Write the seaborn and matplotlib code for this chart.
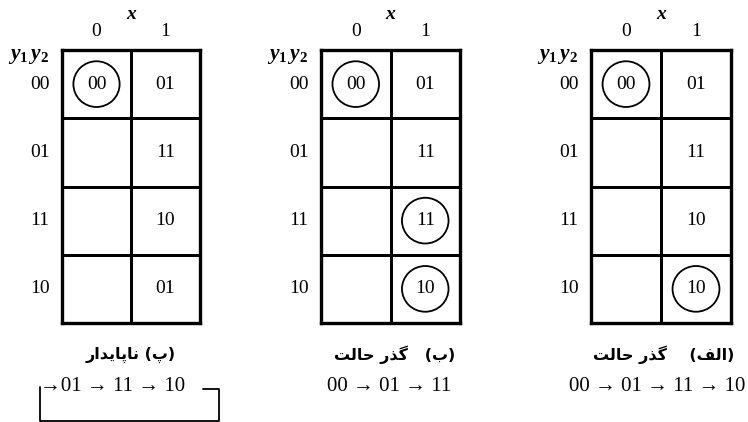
import numpy as np
import pandas as pd
import matplotlib
matplotlib.use("Agg")
import matplotlib.pyplot as plt
from matplotlib.colors import ListedColormap
from matplotlib.patches import Circle
import seaborn as sns

# ---------------- data ----------------
col_labels = ["0", "1"]
row_labels = ["00", "01", "11", "10"]

# panels in left-to-right order: (پ), (ب), (الف)
next_x0_p = ["00", "", "", ""]
next_x1_p = ["01", "11", "10", "01"]
next_x0_b = ["00", "", "", ""]
next_x1_b = ["01", "11", "11", "10"]
next_x0_a = ["00", "", "", ""]
next_x1_a = ["01", "11", "10", "10"]

stable_p = [(0, 0)]
stable_b = [(0, 0), (2, 1), (3, 1)]
stable_a = [(0, 0), (3, 1)]

captions = ["(پ) ناپایدار", "(ب) گذر حالت", "(الف) گذر حالت"]
sequences = ["→01 → 11 → 10", "00 → 01 → 11", "00 → 01 → 11 → 10"]

# ---------------- persian shaping (presentation forms, visual order) ----------------
FORMS = {
    'ا': ('\uFE8D', '\uFE8E', None, None),
    'ب': ('\uFE8F', '\uFE90', '\uFE91', '\uFE92'),
    'پ': ('\uFB56', '\uFB57', '\uFB58', '\uFB59'),
    'ت': ('\uFE95', '\uFE96', '\uFE97', '\uFE98'),
    'ح': ('\uFEA1', '\uFEA2', '\uFEA3', '\uFEA4'),
    'د': ('\uFEA9', '\uFEAA', None, None),
    'ذ': ('\uFEAB', '\uFEAC', None, None),
    'ر': ('\uFEAD', '\uFEAE', None, None),
    'ف': ('\uFED1', '\uFED2', '\uFED3', '\uFED4'),
    'گ': ('\uFB92', '\uFB93', '\uFB94', '\uFB95'),
    'ل': ('\uFEDD', '\uFEDE', '\uFEDF', '\uFEE0'),
    'ن': ('\uFEE5', '\uFEE6', '\uFEE7', '\uFEE8'),
    'ی': ('\uFBFC', '\uFBFD', '\uFBFE', '\uFBFF'),
}


def shape(word):
    out = []
    for i, ch in enumerate(word):
        f = FORMS.get(ch)
        if f is None:
            out.append(ch)
            continue
        prev = word[i - 1] if i > 0 else None
        nxt = word[i + 1] if i + 1 < len(word) else None
        jp = prev in FORMS and FORMS[prev][2] is not None
        jn = nxt in FORMS and f[2] is not None
        if jp and jn:
            out.append(f[3])
        elif jp:
            out.append(f[1])
        elif jn:
            out.append(f[2])
        else:
            out.append(f[0])
    return "".join(reversed(out))


def visual(caption, gap):
    label, rest = caption[1:].split(")", 1)
    words = rest.split()
    return " ".join(shape(w) for w in reversed(words)) + gap + "(" + shape(label) + ")"


# ---------------- style ----------------
sns.set_theme(style="white")
plt.rcParams["font.family"] = ["Liberation Serif", "DejaVu Serif"]
plt.rcParams["mathtext.fontset"] = "custom"
plt.rcParams["mathtext.it"] = "Liberation Serif:italic:bold"
plt.rcParams["mathtext.rm"] = "Liberation Serif:bold"

SERIF = ["Liberation Serif", "DejaVu Serif"]
FS = 14

fig = plt.figure(figsize=(7.48, 4.22), dpi=100)
W, H = 748, 422
top_px, bot_px = 50, 323
panel_x = [(62, 200), (321, 460), (591, 731)]
gaps = [" ", "   ", "    "]
cap_x = [0.5, 0.53, 0.52]
seq_x = [None, 0.49, 0.47]

panels = [
    (next_x0_p, next_x1_p, stable_p),
    (next_x0_b, next_x1_b, stable_b),
    (next_x0_a, next_x1_a, stable_a),
]

for k, ((c0, c1, stable), (l, r)) in enumerate(zip(panels, panel_x)):
    ax = fig.add_axes([l / W, (H - bot_px) / H, (r - l) / W, (bot_px - top_px) / H])
    df = pd.DataFrame(np.zeros((len(row_labels), len(col_labels))),
                      index=row_labels, columns=col_labels)
    annot = np.array([c0, c1], dtype=object).T
    sns.heatmap(df, annot=annot, fmt="", cmap=ListedColormap(["white"]),
                cbar=False, linewidths=2.0, linecolor="black",
                annot_kws=dict(fontsize=FS, family=SERIF, color="black"), ax=ax)
    for sp in ax.spines.values():
        sp.set_visible(True)
        sp.set_linewidth(2.4)
        sp.set_color("black")
    ax.xaxis.tick_top()
    ax.xaxis.set_label_position("top")
    ax.tick_params(axis="both", length=0, labelsize=FS, colors="black")
    ax.tick_params(axis="x", pad=7)
    ax.tick_params(axis="y", pad=9)
    ax.set_xticklabels(col_labels, family=SERIF)
    ax.set_yticklabels(row_labels, rotation=0, family=SERIF)
    ax.set_xlabel("x", fontsize=FS, style="italic", fontweight="bold",
                  family=SERIF, labelpad=3, color="black")
    ax.set_ylabel("")
    ax.text(-0.095, 0.975, r"$y_1\,y_2$", transform=ax.transAxes,
            ha="right", va="center", fontsize=FS + 1.5, color="black")
    for (ri, ci) in stable:
        ax.add_patch(Circle((ci + 0.5, ri + 0.5), 0.335, fill=False,
                            edgecolor="black", linewidth=1.3, clip_on=False))

    ax.text(cap_x[k], -0.118, visual(captions[k], gaps[k]), transform=ax.transAxes,
            ha="center", va="center", fontsize=11.5, fontweight="bold",
            family=["DejaVu Sans"], color="black")

    if k == 0:
        ax.text(-0.163, -0.234, sequences[k], transform=ax.transAxes,
                ha="left", va="center", fontsize=15, family=SERIF,
                color="black")
        xs = [1.02, 1.138, 1.138, -0.159, -0.159]
        ys = [-0.242, -0.242, -0.359, -0.359, -0.234]
        ax.plot(xs, ys, color="black", linewidth=1.3, transform=ax.transAxes,
                clip_on=False)
    else:
        ax.text(seq_x[k], -0.234, sequences[k],
                transform=ax.transAxes, ha="center", va="center",
                fontsize=15, family=SERIF, color="black")

fig.savefig("out.png", dpi=100, facecolor="white")
